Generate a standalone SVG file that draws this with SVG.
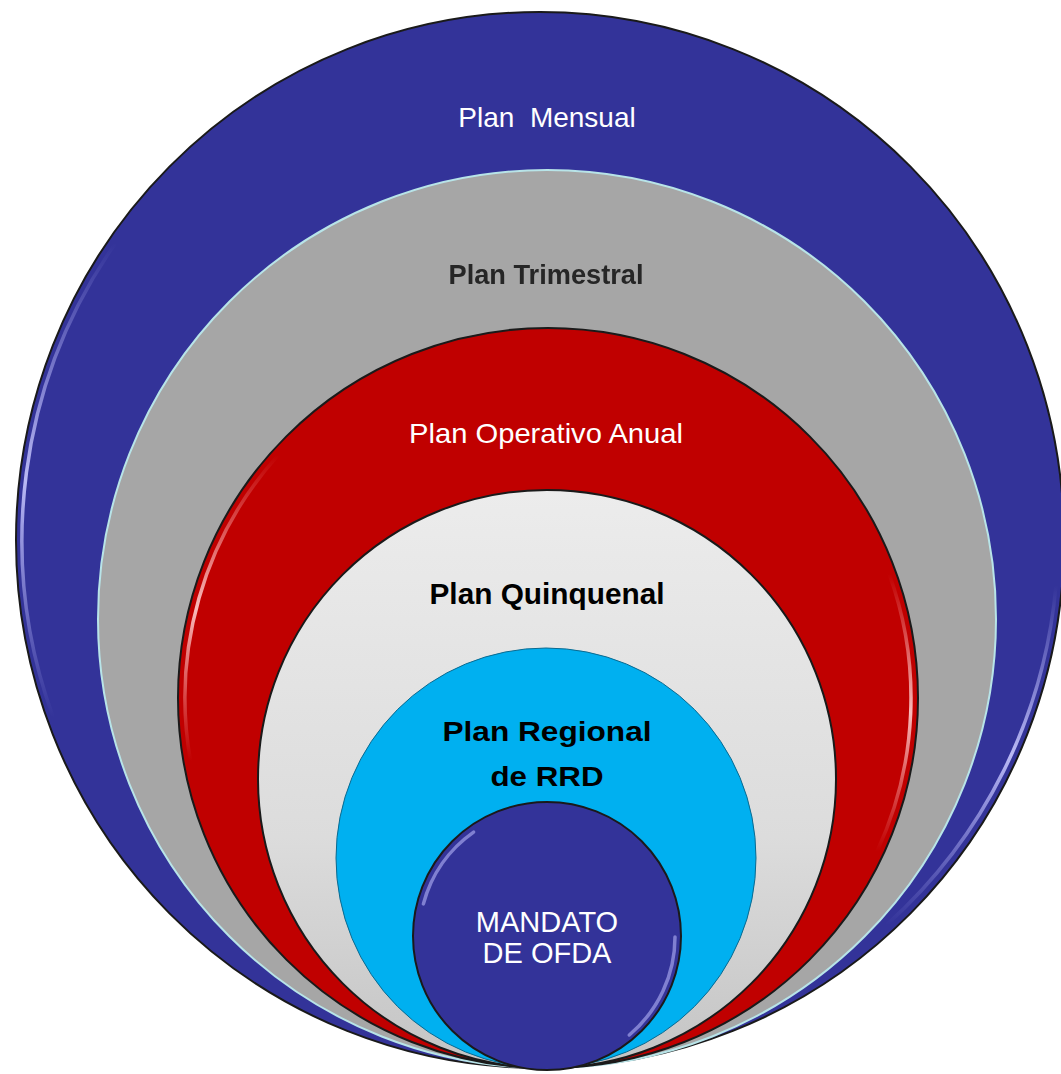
<svg xmlns="http://www.w3.org/2000/svg" width="1061" height="1074" viewBox="0 0 1061 1074">
<style>
.lbl{font-family:"Liberation Sans",Arial,sans-serif;text-anchor:middle}
.w{fill:#ffffff}
.b{font-weight:bold;fill:#000000}
.hl{fill:none;stroke-width:3.5;stroke-linecap:round}
.edge{stroke:#1a1a1a;stroke-width:2}
</style>
<defs>
<linearGradient id="gQ" x1="0" y1="0" x2="0" y2="1">
<stop offset="0" stop-color="#ECECEC"/>
<stop offset="0.6" stop-color="#DCDCDC"/>
<stop offset="1" stop-color="#C4C4C4"/>
</linearGradient>
<linearGradient id="hlB" x1="0" y1="0" x2="0" y2="1">
<stop offset="0" stop-color="#b8b8ff" stop-opacity="0"/>
<stop offset="0.5" stop-color="#c8c8ff" stop-opacity="0.9"/>
<stop offset="1" stop-color="#b8b8ff" stop-opacity="0"/>
</linearGradient>
<linearGradient id="hlR" x1="0" y1="0" x2="0" y2="1">
<stop offset="0" stop-color="#ffb0b0" stop-opacity="0"/>
<stop offset="0.5" stop-color="#ffd0d0" stop-opacity="0.9"/>
<stop offset="1" stop-color="#ffb0b0" stop-opacity="0"/>
</linearGradient>
<filter id="soft" x="-5%" y="-20%" width="110%" height="140%">
<feGaussianBlur stdDeviation="0.7"/>
</filter>
</defs>

<g id="plan-mensual">
<ellipse cx="540" cy="540" rx="524" ry="528" fill="#333399" class="edge"/>
<path class="hl" stroke="url(#hlB)" d="M53.2,717.2 A518,518 0 0 1 115.7,242.9"/>
<path class="hl" stroke="url(#hlB)" d="M1056,585.2 A518,518 0 0 1 886.6,924.9"/>
<text class="lbl w" x="547" y="127" font-size="28" xml:space="preserve">Plan  Mensual</text>
</g>

<g id="plan-trimestral">
<circle cx="547" cy="619" r="449" fill="#A6A6A6" stroke="#B8E4E8" stroke-width="2"/>
<text class="lbl" x="546" y="284" font-size="28" font-weight="bold" fill="#262626" textLength="195" lengthAdjust="spacingAndGlyphs" filter="url(#soft)">Plan Trimestral</text>
</g>

<g id="plan-operativo-anual">
<circle cx="548" cy="698" r="370" fill="#C00000" class="edge"/>
<path class="hl" stroke="url(#hlR)" d="M190.5,761 A363,363 0 0 1 278.2,455.1"/>
<path class="hl" stroke="url(#hlR)" d="M889.1,573.9 A363,363 0 0 1 877,851.4"/>
<text class="lbl w" x="546" y="443" font-size="28" textLength="274" lengthAdjust="spacingAndGlyphs">Plan Operativo Anual</text>
</g>

<g id="plan-quinquenal">
<circle cx="547" cy="779" r="289" fill="url(#gQ)" class="edge"/>
<text class="lbl b" x="547" y="604" font-size="30" textLength="235" lengthAdjust="spacingAndGlyphs">Plan Quinquenal</text>
</g>

<g id="plan-regional">
<circle cx="546" cy="858" r="210" fill="#00B0F0" stroke="#0a6a90" stroke-width="1"/>
<text class="lbl b" x="547" y="741" font-size="28" textLength="209" lengthAdjust="spacingAndGlyphs">Plan Regional</text>
<text class="lbl b" x="547" y="786" font-size="28" textLength="113" lengthAdjust="spacingAndGlyphs">de RRD</text>
</g>

<g id="mandato-ofda">
<circle cx="547" cy="936" r="134" fill="#333399" class="edge"/>
<path class="hl" stroke="#c0c0ff" stroke-opacity="0.55" d="M423.4,903.9 A128,128 0 0 1 473.6,832.1"/>
<path class="hl" stroke="#c0c0ff" stroke-opacity="0.55" d="M675,937 A128,128 0 0 1 629.3,1035"/>
<text class="lbl w" x="547" y="932" font-size="29">MANDATO</text>
<text class="lbl w" x="547" y="963" font-size="29">DE OFDA</text>
</g>

<g id="connectors"/>
</svg>
